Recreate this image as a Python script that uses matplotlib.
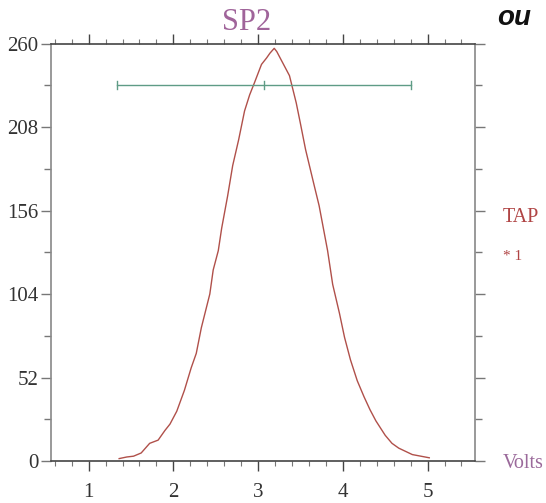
import matplotlib.pyplot as plt
import numpy as np

# histogram curve (Volts vs counts)
volts = [1.36, 1.45, 1.53, 1.62, 1.67, 1.72, 1.82, 1.90, 1.96, 2.04, 2.13, 2.21,
         2.27, 2.33, 2.43, 2.47, 2.53, 2.57, 2.64, 2.70, 2.77, 2.84, 2.90, 2.96,
         3.04, 3.10, 3.14, 3.19, 3.22, 3.28, 3.37, 3.45, 3.50, 3.56, 3.66, 3.72,
         3.82, 3.88, 3.96, 4.02, 4.09, 4.17, 4.25, 4.32, 4.39, 4.50, 4.58, 4.66,
         4.74, 4.82, 4.92, 5.02]
counts = [1.5, 2.5, 3, 5, 8, 11, 13, 19, 23, 31, 44, 58,
          67, 83, 104, 119, 131, 145, 165, 184, 200, 218, 228, 236,
          247, 251, 254, 257, 255, 249, 240, 223, 210, 194, 172, 159,
          131, 110, 92, 77, 63, 50, 40, 32, 25, 16, 11, 8,
          6, 4, 3, 2]

# range bar (start, mean, end) and its level
bar_x = [1.337, 3.075, 4.81]
bar_y = 234

xticks = [1, 2, 3, 4, 5]
yticks = [0, 52, 104, 156, 208, 260]

serif = 'Liberation Serif'
fig = plt.figure(figsize=(5.46, 5.03), dpi=100)
ax = fig.add_axes([0.093, 0.0835, 0.777, 0.83])

ax.plot(volts, counts, color='#b0504a', lw=1.0)

# green range bar with end caps and mean tick
ax.plot([bar_x[0], bar_x[2]], [bar_y, bar_y], color='#5f9c86', lw=1.0)
for bx in bar_x:
    ax.plot([bx, bx], [bar_y - 2.6, bar_y + 2.6], color='#5f9c86', lw=1.0)

ax.set_xlim(0.553, 5.56)
ax.set_ylim(0, 260)

ax.set_xticks(xticks)
ax.set_xticks(np.arange(0.6, 5.6, 0.2), minor=True)
ax.set_yticks(yticks)
ax.set_yticks([26, 78, 130, 182, 234], minor=True)
ax.set_xticklabels([str(t) for t in xticks], fontfamily=serif, fontsize=15, color='#333333')
ax.set_yticklabels([str(t) for t in yticks], fontfamily=serif, fontsize=15, color='#333333')

ax.tick_params(axis='x', which='major', direction='out', length=7, width=1,
               color='#444444', top=True, pad=9)
ax.tick_params(axis='x', which='minor', direction='out', length=3.5, width=0.8,
               color='#777777', top=True)
ax.tick_params(axis='y', which='major', direction='out', length=7, width=1,
               color='#777777', right=True, pad=2)
ax.tick_params(axis='y', which='minor', direction='out', length=5, width=1,
               color='#777777', right=True)

for side in ['top', 'bottom']:
    ax.spines[side].set_color('#444444')
    ax.spines[side].set_linewidth(1.2)
for side in ['left', 'right']:
    ax.spines[side].set_color('#888888')
    ax.spines[side].set_linewidth(1.2)

fig.text(246.7 / 546, 1 - 23 / 503, 'SP2', fontfamily=serif, fontsize=22,
         color='#a0649a', ha='center', va='center')
fig.text(503 / 546, 1 - 218 / 503, 'TAP', fontfamily=serif, fontsize=14.5,
         color='#b04444', ha='left', va='center')
fig.text(503 / 546, 1 - 256 / 503, '* 1', fontfamily=serif, fontsize=11,
         color='#b04444', ha='left', va='center')
fig.text(503 / 546, 1 - 463 / 503, 'Volts', fontfamily=serif, fontsize=14.5,
         color='#9b6a9b', ha='left', va='center')
fig.text(497 / 546, 1 - 25 / 503, 'ou', fontfamily='Liberation Sans', fontsize=20,
         fontweight='bold', fontstyle='italic', color='#111111', ha='left', va='baseline')

fig.savefig('out.png', dpi=100)
